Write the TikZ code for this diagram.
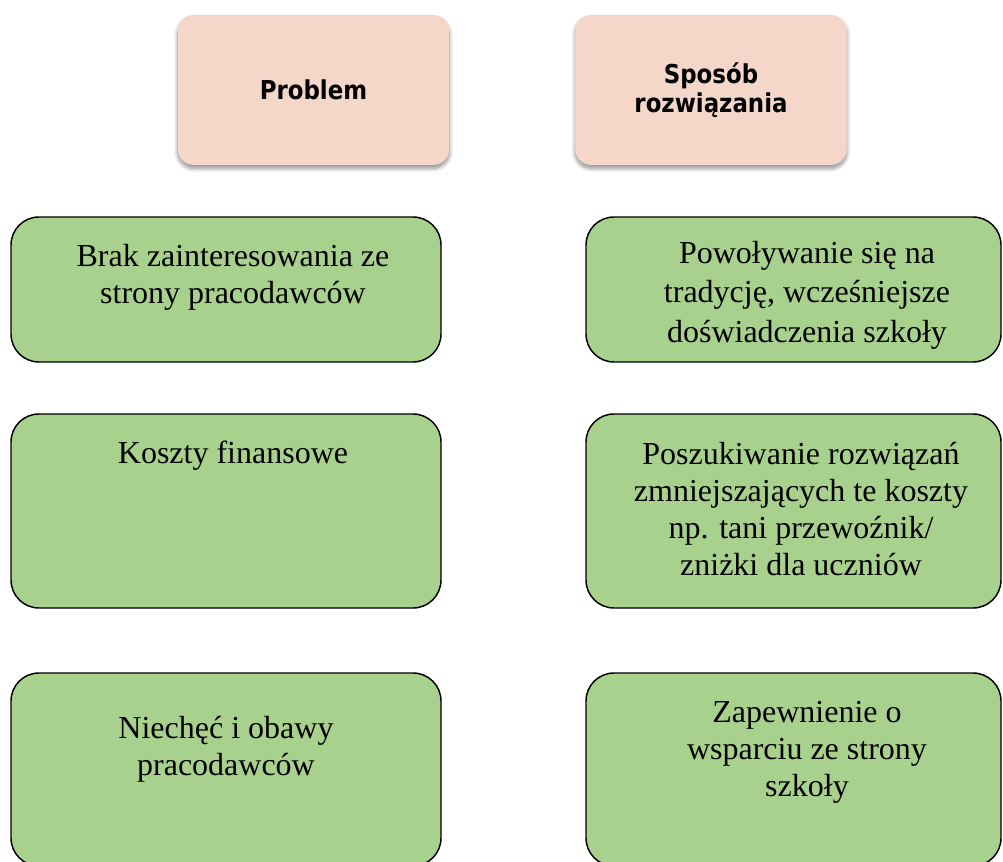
\documentclass[tikz,border=0pt]{standalone}
\usepackage{fontspec}
\setmainfont{Liberation Serif}
\newfontfamily\headfont[FakeStretch=0.88]{DejaVu Sans}
\usepackage{xcolor}
\usepackage{tikz}
\usetikzlibrary{positioning}
\usetikzlibrary{shadows.blur}

\definecolor{peach}{RGB}{245,215,202}
\definecolor{leaf}{RGB}{169,209,142}

\begin{document}
\begin{tikzpicture}
  [
    x=0.75pt, y=-0.75pt,
    head/.style={fill=peach, rounded corners=12pt, inner sep=0pt,
      minimum width=203.5pt, minimum height=112.5pt, align=center,
      font=\headfont\bfseries\fontsize{19.5}{21.75}\selectfont,
      blur shadow={shadow xshift=0pt, shadow yshift=-2.5pt,
        shadow blur radius=3pt, shadow blur steps=10, shadow opacity=45}},
    box/.style={draw=black, line width=1.1pt, fill=leaf,
      rounded corners=21pt, inner sep=0pt},
    txt/.style={anchor=north, align=center, inner sep=0pt,
      font=\fontsize{24}{27.75}\selectfont}
  ]

  \useasboundingbox (0,0) rectangle (1003,862);
  \clip (0,0) rectangle (1003,862);

  % headers
  \node (h1) at (313.5,90) [head] {Problem};
  \node (h2) at (711,90)   [head] {Sposób\\rozwiązania};

  % left column
  \node (a1) at (226,289.5) [box, minimum width=322.5pt, minimum height=108.75pt] {};
  \node (a2) at (226,511)   [box, minimum width=322.5pt, minimum height=145.5pt] {};
  \node (a3) at (226,769.5) [box, minimum width=322.5pt, minimum height=144.75pt] {};

  % right column
  \node (b1) at (793.5,289.5) [box, minimum width=311.25pt, minimum height=108.75pt] {};
  \node (b2) at (793.5,511)   [box, minimum width=311.25pt, minimum height=145.5pt] {};
  \node (b3) at (793.5,769.5) [box, minimum width=311.25pt, minimum height=144.75pt] {};

  % texts
  \node (ta1) at (233,244) [txt] {Brak zainteresowania ze\\strony pracodawców};
  \node (ta2) at (233,441) [txt] {Koszty finansowe};
  \node (ta3) at (226,716) [txt] {Niechęć i obawy\\pracodawców};

  \node (tb1) at (807,241) [txt, font=\fontsize{24}{29.6}\selectfont]
    {Powoływanie się na\\tradycję, wcześniejsze\\doświadczenia szkoły};
  \node (tb2) at (801,442) [txt]
    {Poszukiwanie rozwiązań\\zmniejszających te koszty\\np. tani przewoźnik/\\zniżki dla uczniów};
  \node (tb3) at (807,701) [txt]
    {Zapewnienie o\\wsparciu ze strony\\szkoły};
\end{tikzpicture}
\end{document}
